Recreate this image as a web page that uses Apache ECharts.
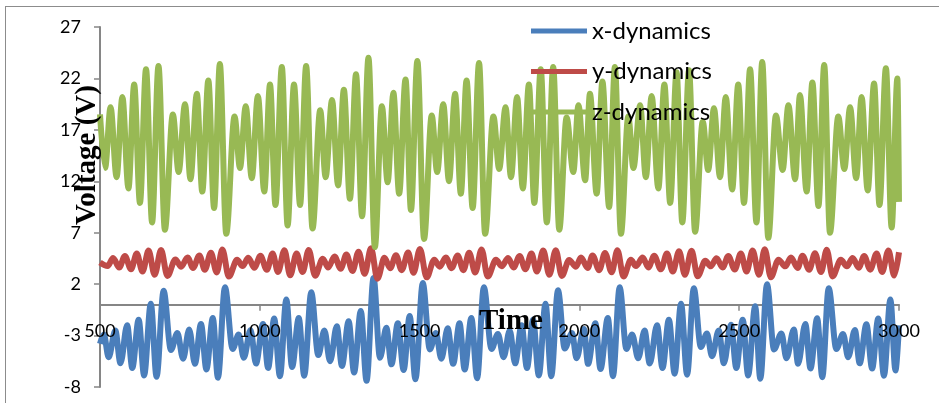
<!DOCTYPE html>
<html>
<head>
<meta charset="utf-8">
<script src="https://cdn.jsdelivr.net/npm/echarts@6/dist/echarts.min.js"></script>
<style>
html,body{margin:0;padding:0;background:#fff;}
#chart{width:939px;height:403px;}
</style>
</head>
<body>
<div id="chart"></div>
<script>
// x-dynamics (blue): [time, voltage] at each turning point
const xPts = [[500,-3.8],[512,-2.9],
[527,-5.1],[548,-2.5],[564,-5.7],[585,-2.0],[601,-6.15],[621,-1.45],[638,-6.87],[659,0.1],[677,-7.0],[699,1.35],
[722,-4.4],[742,-2.75],[760,-5.25],[779,-2.4],[797,-5.75],[816,-1.88],[833,-6.3],[853,-1.29],[869,-7.1],[891,1.7],
[915,-4.3],[934,-2.9],[950,-5.15],[971,-2.45],[988,-5.72],[1010,-1.88],[1026,-6.15],[1045,-1.35],[1063,-6.95],[1083,0.5],[1101,-6.05],[1122,-1.3],[1139,-6.9],[1161,1.2],
[1183,-4.9],[1202,-2.5],[1220,-5.5],[1241,-2.1],[1257,-5.95],[1278,-1.6],[1295,-6.6],[1316,-0.6],[1334,-7.4],[1356,2.6],
[1376,-5.15],[1396,-2.25],[1412,-5.8],[1432,-1.8],[1450,-6.35],[1469,-1.1],[1487,-7.25],[1510,2.1],
[1532,-4.35],[1551,-2.75],[1568,-5.25],[1588,-2.3],[1605,-5.75],[1625,-1.8],[1641,-6.3],[1662,-1.29],[1680,-7.15],[1701,1.7],
[1725,-4.3],[1745,-2.85],[1763,-5.1],[1782,-2.5],[1799,-5.7],[1819,-2.0],[1836,-6.15],[1855,-1.45],[1873,-6.87],[1894,0.1],[1912,-6.95],[1933,1.4],
[1954,-4.25],[1977,-2.75],[1991,-5.2],[2014,-2.35],[2027,-5.75],[2050,-1.8],[2066,-6.25],[2089,-1.3],[2105,-6.95],[2126,1.7],
[2147,-4.3],[2165,-2.9],[2184,-5.2],[2204,-2.5],[2220,-5.72],[2243,-2.0],[2260,-6.15],[2280,-1.45],[2298,-6.7],[2318,0.1],[2337,-6.8],[2358,1.6],
[2380,-4.1],[2399,-2.8],[2415,-5.0],[2436,-2.5],[2452,-5.7],[2474,-1.95],[2491,-6.15],[2511,-1.45],[2528,-6.87],[2550,-0.15],[2566,-7.2],[2587,2.0],
[2609,-4.35],[2632,-2.8],[2648,-5.2],[2671,-2.4],[2684,-5.73],[2707,-1.88],[2723,-6.2],[2744,-1.32],[2760,-7.05],[2780,1.6],
[2804,-4.3],[2825,-2.85],[2841,-5.1],[2862,-2.45],[2877,-5.7],[2898,-1.9],[2916,-6.2],[2935,-1.35],[2953,-6.9],[2973,0.5],[2989,-6.4],[3000,-2.0]];

// y-dynamics (red)
const yPts = [[500,4.1],[524,3.76],
[541,4.54],[560,3.62],[578,4.74],[597,3.44],[615,4.97],[633,3.22],[652,5.26],[671,2.91],[691,5.32],[711,2.80],
[736,4.40],[754,3.70],[774,4.60],[791,3.58],[811,4.79],[828,3.39],[847,5.05],[865,3.14],[883,5.36],[903,2.74],
[929,4.36],[946,3.76],[964,4.56],[983,3.60],[1002,4.75],[1022,3.39],[1040,4.97],[1057,3.18],[1077,5.30],[1095,2.86],[1115,4.97],[1134,3.18],[1153,5.32],[1173,2.82],
[1197,4.48],[1214,3.62],[1234,4.68],[1253,3.49],[1271,4.87],[1290,3.28],[1309,5.16],[1328,3.01],[1348,5.48],[1368,2.53],
[1390,4.56],[1408,3.54],[1426,4.81],[1444,3.36],[1464,5.07],[1481,3.10],[1501,5.42],[1522,2.66],
[1546,4.38],[1563,3.70],[1582,4.60],[1600,3.55],[1619,4.79],[1637,3.36],[1655,5.05],[1674,3.14],[1694,5.38],[1713,2.74],
[1739,4.36],[1757,3.74],[1777,4.54],[1794,3.62],[1813,4.74],[1831,3.44],[1850,4.97],[1867,3.22],[1887,5.26],[1906,2.91],[1926,5.30],[1945,2.80],
[1968,4.35],[1989,3.70],[2005,4.58],[2026,3.57],[2041,4.79],[2062,3.36],[2080,5.03],[2101,3.15],[2119,5.30],[2138,2.74],
[2161,4.36],[2177,3.76],[2198,4.58],[2216,3.62],[2234,4.75],[2255,3.44],[2274,4.97],[2292,3.22],[2312,5.20],[2330,2.91],[2351,5.24],[2370,2.77],
[2394,4.27],[2411,3.73],[2429,4.52],[2448,3.62],[2466,4.74],[2486,3.42],[2505,4.97],[2523,3.22],[2542,5.26],[2562,2.91],[2580,5.40],[2599,2.67],
[2623,4.38],[2644,3.73],[2662,4.58],[2683,3.58],[2698,4.77],[2719,3.39],[2737,5.01],[2756,3.17],[2774,5.34],[2792,2.75],
[2818,4.36],[2837,3.74],[2855,4.54],[2874,3.60],[2891,4.74],[2910,3.41],[2930,4.99],[2947,3.18],[2967,5.28],[2985,2.83],[3000,5.1]];

// z-dynamics (green)
const zPts = [[500,18.5],[516,13.3],
[533,19.2],[552,12.4],[570,20.2],[589,11.3],[607,21.4],[625,9.9],[644,22.9],[663,8.0],[683,23.2],[703,7.3],
[728,18.5],[746,12.9],[766,19.5],[783,12.2],[803,20.5],[820,11.0],[839,21.8],[857,9.4],[875,23.4],[895,6.9],
[921,18.3],[938,13.3],[956,19.3],[975,12.3],[994,20.3],[1014,11.0],[1032,21.4],[1049,9.7],[1069,23.1],[1087,7.7],[1107,21.4],[1126,9.7],[1145,23.2],[1165,7.4],
[1189,18.9],[1206,12.4],[1226,19.9],[1245,11.6],[1263,20.9],[1282,10.3],[1301,22.4],[1320,8.6],[1340,24.0],[1360,5.6],
[1382,19.3],[1400,11.9],[1418,20.6],[1436,10.8],[1456,21.9],[1473,9.2],[1493,23.7],[1514,6.4],
[1538,18.4],[1555,12.9],[1574,19.5],[1592,12.0],[1611,20.5],[1629,10.8],[1647,21.8],[1666,9.4],[1686,23.5],[1705,6.9],
[1731,18.3],[1749,13.2],[1769,19.2],[1786,12.4],[1805,20.2],[1823,11.3],[1842,21.4],[1859,9.9],[1879,22.9],[1898,8.0],[1918,23.1],[1937,7.3],
[1960,18.2],[1981,12.9],[1997,19.4],[2018,12.1],[2033,20.5],[2054,10.8],[2072,21.7],[2093,9.5],[2111,23.1],[2130,6.9],
[2153,18.3],[2169,13.3],[2190,19.4],[2208,12.4],[2226,20.3],[2247,11.3],[2266,21.4],[2284,9.9],[2304,22.6],[2322,8.0],[2343,22.8],[2362,7.1],
[2386,17.8],[2403,13.1],[2421,19.1],[2440,12.4],[2458,20.2],[2478,11.2],[2497,21.4],[2515,9.9],[2534,22.9],[2554,8.0],[2572,23.6],[2591,6.5],
[2615,18.4],[2636,13.1],[2654,19.4],[2675,12.2],[2690,20.4],[2711,11.0],[2729,21.6],[2748,9.6],[2766,23.3],[2784,7.0],
[2810,18.3],[2829,13.2],[2847,19.2],[2866,12.3],[2883,20.2],[2902,11.1],[2922,21.5],[2939,9.7],[2959,23.0],[2977,7.5],[2995,22.0],[3000,10]];

const seriesNames = ['x-dynamics', 'y-dynamics', 'z-dynamics'];
const seriesColors = ['#4A7EBB', '#BE4B48', '#98B954'];
const xRange = [500, 3000, 500];
const yRange = [-8, 27, 5];

const GRID = {left: 100, right: 40, top: 27, bottom: 16};
const plotH = 403 - GRID.top - GRID.bottom;
// distance from the grid's bottom edge up to value 0 (x axis crosses the y axis at 0)
const zeroOffset = -plotH * (0 - yRange[0]) / (yRange[1] - yRange[0]);

const chart = echarts.init(document.getElementById('chart'), null, {renderer: 'canvas'});
const lineSeries = [xPts, yPts, zPts].map((pts, i) => ({
  name: seriesNames[i],
  type: 'line',
  data: pts,
  xAxisIndex: 0,
  showSymbol: false,
  symbol: 'none',
  smooth: 0.34,
  smoothMonotone: 'x',
  lineStyle: {width: 6, color: seriesColors[i], cap: 'butt', join: 'round'},
  itemStyle: {color: seriesColors[i]},
  z: 2,
  animation: false
}));

const xBase = {
  type: 'value',
  position: 'bottom',
  offset: zeroOffset,
  min: xRange[0], max: xRange[1], interval: xRange[2],
  splitLine: {show: false}
};

chart.setOption({
  animation: false,
  backgroundColor: '#fff',
  grid: Object.assign({containLabel: false, outerBoundsMode: 'none'}, GRID),
  legend: {
    data: seriesNames,
    orient: 'vertical',
    left: 526,
    top: 14,
    itemWidth: 56,
    itemHeight: 5,
    itemGap: 16.5,
    icon: 'rect',
    z: 10,
    textStyle: {fontFamily: 'Lato', fontSize: 24, color: '#000', lineHeight: 24}
  },
  xAxis: [
    Object.assign({}, xBase, {
      z: 0,
      axisLine: {show: true, onZero: false, lineStyle: {color: '#868686', width: 2}},
      axisTick: {show: true, inside: false, length: 6, lineStyle: {color: '#868686', width: 1.5}},
      axisLabel: {show: false}
    }),
    Object.assign({}, xBase, {
      z: 8,
      axisLine: {show: false, onZero: false},
      axisTick: {show: false},
      axisLabel: {show: true, color: '#000', fontFamily: 'Lato', fontSize: 18, margin: 17, formatter: v => String(v)}
    })
  ],
  yAxis: {
    type: 'value',
    min: yRange[0], max: yRange[1], interval: yRange[2],
    axisLine: {show: true, onZero: false, lineStyle: {color: '#868686', width: 2}},
    axisTick: {show: true, inside: false, length: 6, lineStyle: {color: '#868686', width: 1.5}},
    axisLabel: {color: '#000', fontFamily: 'Lato', fontSize: 18, margin: 19, formatter: v => String(v)},
    splitLine: {show: false}
  },
  series: lineSeries,
  graphic: [
    {type: 'line', shape: {x1: 5.5, y1: 6.5, x2: 5.5, y2: 403}, style: {stroke: '#8c8c8c', lineWidth: 1}, z: 1},
    {type: 'line', shape: {x1: 5, y1: 6.5, x2: 939, y2: 6.5}, style: {stroke: '#8c8c8c', lineWidth: 1}, z: 1},
    {type: 'text', x: 88, y: 155, rotation: Math.PI / 2, z: 10,
     style: {text: 'Voltage (V)', font: 'bold 29px "Liberation Serif"', fill: '#000', align: 'center', verticalAlign: 'middle'}},
    {type: 'text', x: 511, y: 322, z: 10,
     style: {text: 'Time', font: 'bold 29px "Liberation Serif"', fill: '#000', align: 'center', verticalAlign: 'middle'}}
  ]
});
</script>
</body>
</html>
